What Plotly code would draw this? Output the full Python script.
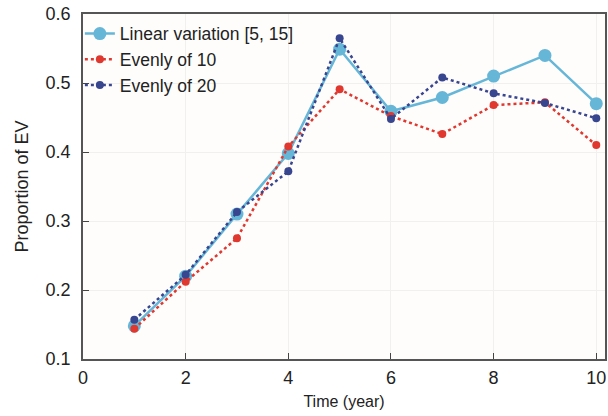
import plotly.graph_objects as go

years = [1, 2, 3, 4, 5, 6, 7, 8, 9, 10]
linear_var = [0.148, 0.220, 0.310, 0.398, 0.549, 0.459, 0.479, 0.510, 0.540, 0.470]
evenly_10 = [0.144, 0.212, 0.275, 0.408, 0.491, 0.452, 0.426, 0.468, 0.472, 0.410]
evenly_20 = [0.157, 0.222, 0.313, 0.372, 0.565, 0.448, 0.508, 0.485, 0.471, 0.449]

fig = go.Figure()
fig.add_trace(go.Scatter(x=years, y=linear_var, name="Linear variation [5, 15]",
                         mode="lines+markers",
                         line=dict(color="#66b6d8", width=2.5),
                         marker=dict(size=13, color="#66b6d8")))
fig.add_trace(go.Scatter(x=years, y=evenly_10, name="Evenly of 10",
                         mode="lines+markers",
                         line=dict(color="#e0382e", width=2.5, dash="dot"),
                         marker=dict(size=8, color="#e0382e")))
fig.add_trace(go.Scatter(x=years, y=evenly_20, name="Evenly of 20",
                         mode="lines+markers",
                         line=dict(color="#38458f", width=2.5, dash="dot"),
                         marker=dict(size=8, color="#38458f")))

font_family = "Liberation Sans, Arial, sans-serif"
fig.update_layout(
    width=608, height=416,
    margin=dict(l=83, r=1, t=14, b=57),
    paper_bgcolor="#ffffff",
    plot_bgcolor="#fefdfc",
    font=dict(family=font_family, size=16, color="#222222"),
    showlegend=True,
    legend=dict(x=-0.006, y=0.995, xanchor="left", yanchor="top",
                bgcolor="rgba(0,0,0,0)", font=dict(size=17.5, color="#222222"),
                tracegroupgap=0, itemwidth=30),
)
fig.update_xaxes(range=[0, 10.17], tickvals=[0, 2, 4, 6, 8, 10],
                 ticks="inside", ticklen=6, tickcolor="#444444",
                 showline=True, linecolor="#555555", linewidth=1.5, mirror=True,
                 showgrid=True, gridcolor="#f2f0ee", zeroline=False,
                 tickfont=dict(size=18), ticklabelstandoff=2,
                 title=dict(text="Time (year)", font=dict(size=16), standoff=8))
fig.update_yaxes(range=[0.1, 0.6], tickvals=[0.1, 0.2, 0.3, 0.4, 0.5, 0.6],
                 tickformat=".1f",
                 ticks="inside", ticklen=6, tickcolor="#444444",
                 showline=True, linecolor="#555555", linewidth=1.5, mirror=True,
                 showgrid=True, gridcolor="#f2f0ee", zeroline=False,
                 tickfont=dict(size=18), ticklabelstandoff=7,
                 title=dict(text="Proportion of EV", font=dict(size=18), standoff=12))

fig.write_html("out.html")
